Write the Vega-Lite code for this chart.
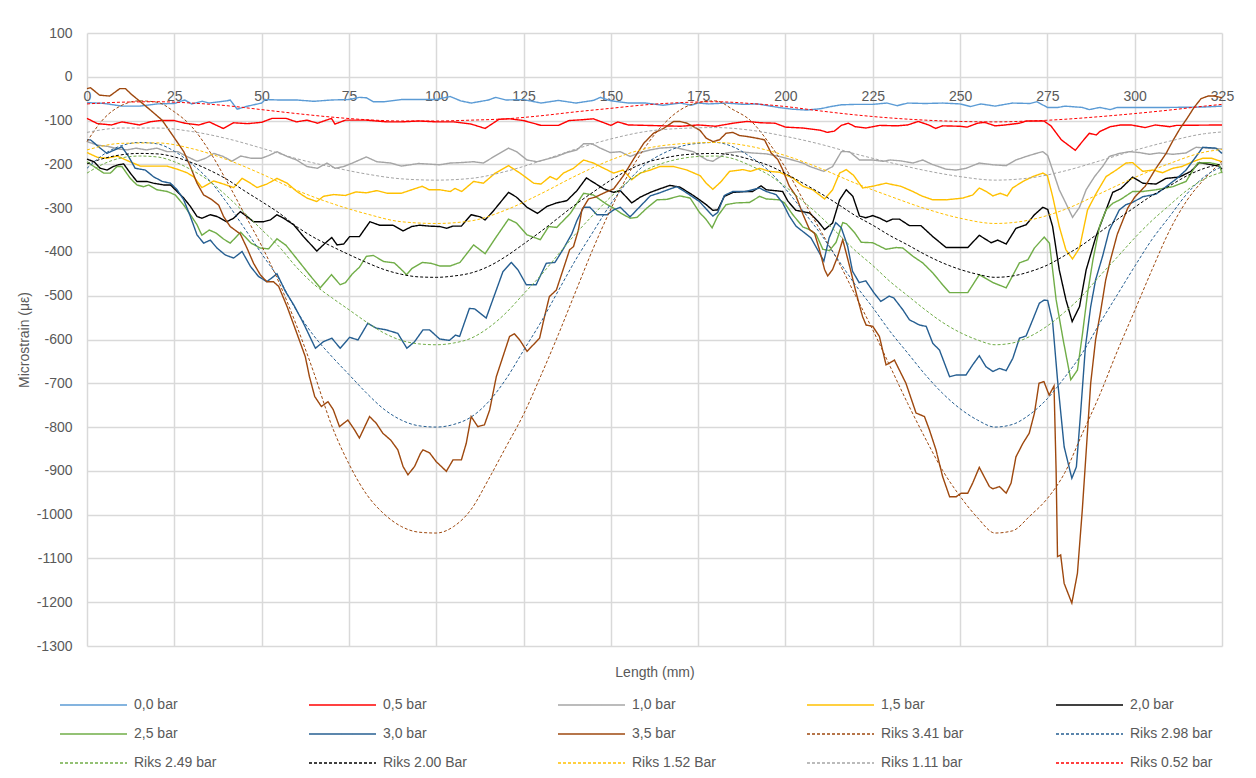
{
"$schema":"https://vega.github.io/schema/vega-lite/v6.json",
"width":1135,"height":613,
"autosize":{"type":"none"},
"padding":{"left":87,"top":33,"right":34,"bottom":132},
"background":"white",
"config":{"view":{"stroke":null},"font":"Liberation Sans",
"legend":{"orient":"none","legendX":-27,"legendY":664,"columns":5,"direction":"horizontal","symbolType":"M-4.786,0H4.786","symbolSize":196,"symbolOffset":25.5,"symbolStrokeWidth":1.5,"labelFontSize":14,"labelColor":"#595959","labelOffset":32.5,"columnPadding":86,"rowPadding":14,"gridAlign":"all","padding":0,"labelLimit":250}},
"data":{"values":[
{"s":"0,0 bar","x":0,"y":-59},{"s":"0,0 bar","x":5,"y":-61},{"s":"0,0 bar","x":10,"y":-67},{"s":"0,0 bar","x":15,"y":-67},{"s":"0,0 bar","x":20,"y":-62},{"s":"0,0 bar","x":25,"y":-61},{"s":"0,0 bar","x":28,"y":-53},{"s":"0,0 bar","x":30,"y":-62},{"s":"0,0 bar","x":33,"y":-56},{"s":"0,0 bar","x":35,"y":-60},{"s":"0,0 bar","x":40,"y":-55},{"s":"0,0 bar","x":41,"y":-53},{"s":"0,0 bar","x":43,"y":-74},{"s":"0,0 bar","x":46,"y":-67},{"s":"0,0 bar","x":50,"y":-60},{"s":"0,0 bar","x":51,"y":-52},{"s":"0,0 bar","x":55,"y":-53},{"s":"0,0 bar","x":60,"y":-53},{"s":"0,0 bar","x":65,"y":-56},{"s":"0,0 bar","x":70,"y":-53},{"s":"0,0 bar","x":75,"y":-52},{"s":"0,0 bar","x":78,"y":-47},{"s":"0,0 bar","x":80,"y":-48},{"s":"0,0 bar","x":82,"y":-57},{"s":"0,0 bar","x":85,"y":-57},{"s":"0,0 bar","x":90,"y":-52},{"s":"0,0 bar","x":95,"y":-52},{"s":"0,0 bar","x":100,"y":-52},{"s":"0,0 bar","x":104,"y":-45},{"s":"0,0 bar","x":107,"y":-55},{"s":"0,0 bar","x":110,"y":-60},{"s":"0,0 bar","x":115,"y":-53},{"s":"0,0 bar","x":117,"y":-47},{"s":"0,0 bar","x":120,"y":-53},{"s":"0,0 bar","x":125,"y":-52},{"s":"0,0 bar","x":130,"y":-60},{"s":"0,0 bar","x":135,"y":-54},{"s":"0,0 bar","x":140,"y":-60},{"s":"0,0 bar","x":145,"y":-54},{"s":"0,0 bar","x":147,"y":-47},{"s":"0,0 bar","x":150,"y":-55},{"s":"0,0 bar","x":155,"y":-60},{"s":"0,0 bar","x":160,"y":-60},{"s":"0,0 bar","x":165,"y":-65},{"s":"0,0 bar","x":170,"y":-60},{"s":"0,0 bar","x":173,"y":-65},{"s":"0,0 bar","x":175,"y":-60},{"s":"0,0 bar","x":178,"y":-62},{"s":"0,0 bar","x":183,"y":-60},{"s":"0,0 bar","x":188,"y":-63},{"s":"0,0 bar","x":192,"y":-62},{"s":"0,0 bar","x":195,"y":-66},{"s":"0,0 bar","x":198,"y":-70},{"s":"0,0 bar","x":202,"y":-74},{"s":"0,0 bar","x":206,"y":-76},{"s":"0,0 bar","x":210,"y":-73},{"s":"0,0 bar","x":213,"y":-68},{"s":"0,0 bar","x":216,"y":-64},{"s":"0,0 bar","x":220,"y":-63},{"s":"0,0 bar","x":225,"y":-63},{"s":"0,0 bar","x":229,"y":-60},{"s":"0,0 bar","x":232,"y":-66},{"s":"0,0 bar","x":235,"y":-60},{"s":"0,0 bar","x":240,"y":-61},{"s":"0,0 bar","x":245,"y":-60},{"s":"0,0 bar","x":250,"y":-62},{"s":"0,0 bar","x":253,"y":-68},{"s":"0,0 bar","x":256,"y":-62},{"s":"0,0 bar","x":260,"y":-67},{"s":"0,0 bar","x":265,"y":-60},{"s":"0,0 bar","x":270,"y":-61},{"s":"0,0 bar","x":272,"y":-57},{"s":"0,0 bar","x":275,"y":-70},{"s":"0,0 bar","x":278,"y":-70},{"s":"0,0 bar","x":280,"y":-67},{"s":"0,0 bar","x":285,"y":-70},{"s":"0,0 bar","x":287,"y":-75},{"s":"0,0 bar","x":290,"y":-70},{"s":"0,0 bar","x":293,"y":-75},{"s":"0,0 bar","x":295,"y":-70},{"s":"0,0 bar","x":300,"y":-70},{"s":"0,0 bar","x":310,"y":-70},{"s":"0,0 bar","x":320,"y":-69},{"s":"0,0 bar","x":325,"y":-67},
{"s":"0,5 bar","x":0,"y":-95},{"s":"0,5 bar","x":3,"y":-107},{"s":"0,5 bar","x":7,"y":-110},{"s":"0,5 bar","x":10,"y":-103},{"s":"0,5 bar","x":15,"y":-110},{"s":"0,5 bar","x":18,"y":-103},{"s":"0,5 bar","x":21,"y":-100},{"s":"0,5 bar","x":25,"y":-100},{"s":"0,5 bar","x":28,"y":-106},{"s":"0,5 bar","x":32,"y":-110},{"s":"0,5 bar","x":35,"y":-103},{"s":"0,5 bar","x":39,"y":-118},{"s":"0,5 bar","x":42,"y":-105},{"s":"0,5 bar","x":46,"y":-107},{"s":"0,5 bar","x":50,"y":-104},{"s":"0,5 bar","x":53,"y":-95},{"s":"0,5 bar","x":57,"y":-95},{"s":"0,5 bar","x":60,"y":-103},{"s":"0,5 bar","x":63,"y":-99},{"s":"0,5 bar","x":66,"y":-106},{"s":"0,5 bar","x":70,"y":-95},{"s":"0,5 bar","x":71,"y":-108},{"s":"0,5 bar","x":74,"y":-99},{"s":"0,5 bar","x":80,"y":-99},{"s":"0,5 bar","x":86,"y":-103},{"s":"0,5 bar","x":90,"y":-103},{"s":"0,5 bar","x":95,"y":-101},{"s":"0,5 bar","x":100,"y":-103},{"s":"0,5 bar","x":105,"y":-103},{"s":"0,5 bar","x":110,"y":-108},{"s":"0,5 bar","x":114,"y":-118},{"s":"0,5 bar","x":118,"y":-97},{"s":"0,5 bar","x":121,"y":-96},{"s":"0,5 bar","x":125,"y":-100},{"s":"0,5 bar","x":130,"y":-111},{"s":"0,5 bar","x":135,"y":-111},{"s":"0,5 bar","x":138,"y":-100},{"s":"0,5 bar","x":142,"y":-98},{"s":"0,5 bar","x":145,"y":-96},{"s":"0,5 bar","x":150,"y":-111},{"s":"0,5 bar","x":152,"y":-103},{"s":"0,5 bar","x":155,"y":-110},{"s":"0,5 bar","x":160,"y":-111},{"s":"0,5 bar","x":165,"y":-112},{"s":"0,5 bar","x":170,"y":-113},{"s":"0,5 bar","x":175,"y":-110},{"s":"0,5 bar","x":180,"y":-113},{"s":"0,5 bar","x":185,"y":-106},{"s":"0,5 bar","x":189,"y":-102},{"s":"0,5 bar","x":193,"y":-105},{"s":"0,5 bar","x":197,"y":-106},{"s":"0,5 bar","x":200,"y":-115},{"s":"0,5 bar","x":205,"y":-117},{"s":"0,5 bar","x":210,"y":-122},{"s":"0,5 bar","x":212,"y":-127},{"s":"0,5 bar","x":214,"y":-124},{"s":"0,5 bar","x":216,"y":-111},{"s":"0,5 bar","x":218,"y":-106},{"s":"0,5 bar","x":220,"y":-114},{"s":"0,5 bar","x":223,"y":-117},{"s":"0,5 bar","x":227,"y":-111},{"s":"0,5 bar","x":232,"y":-112},{"s":"0,5 bar","x":235,"y":-110},{"s":"0,5 bar","x":238,"y":-102},{"s":"0,5 bar","x":241,"y":-110},{"s":"0,5 bar","x":243,"y":-118},{"s":"0,5 bar","x":245,"y":-112},{"s":"0,5 bar","x":250,"y":-113},{"s":"0,5 bar","x":252,"y":-115},{"s":"0,5 bar","x":255,"y":-106},{"s":"0,5 bar","x":257,"y":-104},{"s":"0,5 bar","x":260,"y":-112},{"s":"0,5 bar","x":263,"y":-110},{"s":"0,5 bar","x":267,"y":-106},{"s":"0,5 bar","x":269,"y":-101},{"s":"0,5 bar","x":274,"y":-101},{"s":"0,5 bar","x":276,"y":-112},{"s":"0,5 bar","x":279,"y":-144},{"s":"0,5 bar","x":283,"y":-168},{"s":"0,5 bar","x":285,"y":-148},{"s":"0,5 bar","x":287,"y":-129},{"s":"0,5 bar","x":289,"y":-133},{"s":"0,5 bar","x":290,"y":-125},{"s":"0,5 bar","x":293,"y":-114},{"s":"0,5 bar","x":296,"y":-110},{"s":"0,5 bar","x":299,"y":-110},{"s":"0,5 bar","x":303,"y":-116},{"s":"0,5 bar","x":306,"y":-110},{"s":"0,5 bar","x":310,"y":-114},{"s":"0,5 bar","x":312,"y":-111},{"s":"0,5 bar","x":325,"y":-110},
{"s":"1,0 bar","x":0,"y":-148},{"s":"1,0 bar","x":3,"y":-156},{"s":"1,0 bar","x":6,"y":-159},{"s":"1,0 bar","x":9,"y":-165},{"s":"1,0 bar","x":11.5,"y":-167},{"s":"1,0 bar","x":14,"y":-163},{"s":"1,0 bar","x":17,"y":-167},{"s":"1,0 bar","x":20,"y":-163},{"s":"1,0 bar","x":23,"y":-171},{"s":"1,0 bar","x":26,"y":-171},{"s":"1,0 bar","x":28.6,"y":-182},{"s":"1,0 bar","x":31.5,"y":-193},{"s":"1,0 bar","x":34,"y":-186},{"s":"1,0 bar","x":36.3,"y":-175},{"s":"1,0 bar","x":39,"y":-182},{"s":"1,0 bar","x":41.5,"y":-193},{"s":"1,0 bar","x":44,"y":-181},{"s":"1,0 bar","x":47,"y":-186},{"s":"1,0 bar","x":50,"y":-186},{"s":"1,0 bar","x":52,"y":-180},{"s":"1,0 bar","x":54.4,"y":-171},{"s":"1,0 bar","x":57.3,"y":-182},{"s":"1,0 bar","x":60,"y":-190},{"s":"1,0 bar","x":63,"y":-205},{"s":"1,0 bar","x":66,"y":-209},{"s":"1,0 bar","x":68.7,"y":-197},{"s":"1,0 bar","x":71,"y":-209},{"s":"1,0 bar","x":73.5,"y":-205},{"s":"1,0 bar","x":76,"y":-197},{"s":"1,0 bar","x":80,"y":-183},{"s":"1,0 bar","x":83,"y":-194},{"s":"1,0 bar","x":87,"y":-197},{"s":"1,0 bar","x":90,"y":-204},{"s":"1,0 bar","x":95,"y":-198},{"s":"1,0 bar","x":101,"y":-201},{"s":"1,0 bar","x":104,"y":-197},{"s":"1,0 bar","x":107,"y":-196},{"s":"1,0 bar","x":110.7,"y":-194},{"s":"1,0 bar","x":113.5,"y":-197},{"s":"1,0 bar","x":117,"y":-180},{"s":"1,0 bar","x":120.7,"y":-163},{"s":"1,0 bar","x":123,"y":-171},{"s":"1,0 bar","x":126,"y":-190},{"s":"1,0 bar","x":128.8,"y":-194},{"s":"1,0 bar","x":131.7,"y":-188},{"s":"1,0 bar","x":134.5,"y":-182},{"s":"1,0 bar","x":137.4,"y":-173},{"s":"1,0 bar","x":140.3,"y":-167},{"s":"1,0 bar","x":142.2,"y":-153},{"s":"1,0 bar","x":144.6,"y":-153},{"s":"1,0 bar","x":147,"y":-163},{"s":"1,0 bar","x":149.8,"y":-173},{"s":"1,0 bar","x":152.7,"y":-171},{"s":"1,0 bar","x":155.5,"y":-182},{"s":"1,0 bar","x":158.4,"y":-173},{"s":"1,0 bar","x":161.3,"y":-167},{"s":"1,0 bar","x":164,"y":-163},{"s":"1,0 bar","x":168,"y":-161},{"s":"1,0 bar","x":170.8,"y":-166},{"s":"1,0 bar","x":173.6,"y":-171},{"s":"1,0 bar","x":175.4,"y":-180},{"s":"1,0 bar","x":177.5,"y":-190},{"s":"1,0 bar","x":179.2,"y":-193},{"s":"1,0 bar","x":183,"y":-174},{"s":"1,0 bar","x":186.8,"y":-171},{"s":"1,0 bar","x":190.6,"y":-174},{"s":"1,0 bar","x":194.5,"y":-176},{"s":"1,0 bar","x":198.3,"y":-182},{"s":"1,0 bar","x":202,"y":-190},{"s":"1,0 bar","x":205,"y":-197},{"s":"1,0 bar","x":207,"y":-205},{"s":"1,0 bar","x":211,"y":-216},{"s":"1,0 bar","x":213.5,"y":-205},{"s":"1,0 bar","x":216,"y":-171},{"s":"1,0 bar","x":218.3,"y":-171},{"s":"1,0 bar","x":221.2,"y":-190},{"s":"1,0 bar","x":225,"y":-190},{"s":"1,0 bar","x":228,"y":-193},{"s":"1,0 bar","x":230,"y":-190},{"s":"1,0 bar","x":233,"y":-192},{"s":"1,0 bar","x":236.5,"y":-197},{"s":"1,0 bar","x":239.3,"y":-190},{"s":"1,0 bar","x":242,"y":-200},{"s":"1,0 bar","x":246,"y":-211},{"s":"1,0 bar","x":248.9,"y":-213},{"s":"1,0 bar","x":251.7,"y":-209},{"s":"1,0 bar","x":255.5,"y":-197},{"s":"1,0 bar","x":259.4,"y":-201},{"s":"1,0 bar","x":263.2,"y":-203},{"s":"1,0 bar","x":266,"y":-190},{"s":"1,0 bar","x":268.9,"y":-182},{"s":"1,0 bar","x":271.8,"y":-175},{"s":"1,0 bar","x":273.7,"y":-171},{"s":"1,0 bar","x":275.1,"y":-180},{"s":"1,0 bar","x":276.5,"y":-213},{"s":"1,0 bar","x":278.4,"y":-258},{"s":"1,0 bar","x":280.3,"y":-289},{"s":"1,0 bar","x":282.2,"y":-321},{"s":"1,0 bar","x":284.2,"y":-298},{"s":"1,0 bar","x":286.1,"y":-258},{"s":"1,0 bar","x":288.5,"y":-228},{"s":"1,0 bar","x":290.8,"y":-205},{"s":"1,0 bar","x":292.7,"y":-182},{"s":"1,0 bar","x":295.6,"y":-175},{"s":"1,0 bar","x":298.5,"y":-171},{"s":"1,0 bar","x":301.3,"y":-173},{"s":"1,0 bar","x":304.2,"y":-177},{"s":"1,0 bar","x":307,"y":-174},{"s":"1,0 bar","x":310.9,"y":-177},{"s":"1,0 bar","x":314.7,"y":-174},{"s":"1,0 bar","x":317.6,"y":-161},{"s":"1,0 bar","x":320.9,"y":-163},{"s":"1,0 bar","x":325,"y":-165},
{"s":"1,5 bar","x":0,"y":-173},{"s":"1,5 bar","x":3,"y":-184},{"s":"1,5 bar","x":5.7,"y":-186},{"s":"1,5 bar","x":8.6,"y":-181},{"s":"1,5 bar","x":12,"y":-193},{"s":"1,5 bar","x":15.3,"y":-204},{"s":"1,5 bar","x":19,"y":-204},{"s":"1,5 bar","x":22.9,"y":-204},{"s":"1,5 bar","x":25.8,"y":-211},{"s":"1,5 bar","x":28.6,"y":-219},{"s":"1,5 bar","x":30.5,"y":-228},{"s":"1,5 bar","x":32.9,"y":-253},{"s":"1,5 bar","x":36.3,"y":-238},{"s":"1,5 bar","x":39.1,"y":-245},{"s":"1,5 bar","x":42,"y":-253},{"s":"1,5 bar","x":44.4,"y":-232},{"s":"1,5 bar","x":46.8,"y":-243},{"s":"1,5 bar","x":48.7,"y":-253},{"s":"1,5 bar","x":51.5,"y":-245},{"s":"1,5 bar","x":54.4,"y":-232},{"s":"1,5 bar","x":57.3,"y":-243},{"s":"1,5 bar","x":60.1,"y":-262},{"s":"1,5 bar","x":63,"y":-277},{"s":"1,5 bar","x":65.8,"y":-285},{"s":"1,5 bar","x":67.7,"y":-273},{"s":"1,5 bar","x":70.6,"y":-269},{"s":"1,5 bar","x":74,"y":-271},{"s":"1,5 bar","x":77,"y":-263},{"s":"1,5 bar","x":80,"y":-265},{"s":"1,5 bar","x":83,"y":-260},{"s":"1,5 bar","x":86,"y":-266},{"s":"1,5 bar","x":90,"y":-266},{"s":"1,5 bar","x":93,"y":-258},{"s":"1,5 bar","x":96,"y":-250},{"s":"1,5 bar","x":98,"y":-258},{"s":"1,5 bar","x":101,"y":-258},{"s":"1,5 bar","x":104,"y":-262},{"s":"1,5 bar","x":105.4,"y":-255},{"s":"1,5 bar","x":107.3,"y":-262},{"s":"1,5 bar","x":110.7,"y":-239},{"s":"1,5 bar","x":113.5,"y":-243},{"s":"1,5 bar","x":116.9,"y":-220},{"s":"1,5 bar","x":120.7,"y":-203},{"s":"1,5 bar","x":124,"y":-220},{"s":"1,5 bar","x":127.9,"y":-243},{"s":"1,5 bar","x":130,"y":-245},{"s":"1,5 bar","x":132.6,"y":-228},{"s":"1,5 bar","x":134.5,"y":-235},{"s":"1,5 bar","x":136.4,"y":-220},{"s":"1,5 bar","x":139.3,"y":-209},{"s":"1,5 bar","x":142.2,"y":-190},{"s":"1,5 bar","x":145,"y":-197},{"s":"1,5 bar","x":148,"y":-209},{"s":"1,5 bar","x":150.8,"y":-220},{"s":"1,5 bar","x":153.5,"y":-213},{"s":"1,5 bar","x":156,"y":-235},{"s":"1,5 bar","x":158.4,"y":-220},{"s":"1,5 bar","x":161.3,"y":-213},{"s":"1,5 bar","x":164,"y":-205},{"s":"1,5 bar","x":168,"y":-205},{"s":"1,5 bar","x":171.8,"y":-213},{"s":"1,5 bar","x":175.6,"y":-226},{"s":"1,5 bar","x":177.3,"y":-243},{"s":"1,5 bar","x":179.2,"y":-257},{"s":"1,5 bar","x":181.5,"y":-240},{"s":"1,5 bar","x":184,"y":-216},{"s":"1,5 bar","x":187.8,"y":-212},{"s":"1,5 bar","x":190,"y":-216},{"s":"1,5 bar","x":192.6,"y":-209},{"s":"1,5 bar","x":195.4,"y":-216},{"s":"1,5 bar","x":198.3,"y":-218},{"s":"1,5 bar","x":202.1,"y":-231},{"s":"1,5 bar","x":205,"y":-250},{"s":"1,5 bar","x":207.8,"y":-258},{"s":"1,5 bar","x":211.2,"y":-279},{"s":"1,5 bar","x":213.5,"y":-258},{"s":"1,5 bar","x":215.5,"y":-220},{"s":"1,5 bar","x":217.4,"y":-212},{"s":"1,5 bar","x":219.5,"y":-225},{"s":"1,5 bar","x":222.1,"y":-254},{"s":"1,5 bar","x":225,"y":-250},{"s":"1,5 bar","x":228.8,"y":-243},{"s":"1,5 bar","x":230.5,"y":-246},{"s":"1,5 bar","x":233,"y":-250},{"s":"1,5 bar","x":236.5,"y":-262},{"s":"1,5 bar","x":239,"y":-272},{"s":"1,5 bar","x":242.2,"y":-281},{"s":"1,5 bar","x":246,"y":-281},{"s":"1,5 bar","x":250.8,"y":-277},{"s":"1,5 bar","x":253.6,"y":-270},{"s":"1,5 bar","x":255.5,"y":-254},{"s":"1,5 bar","x":257.5,"y":-262},{"s":"1,5 bar","x":259.4,"y":-272},{"s":"1,5 bar","x":261.5,"y":-266},{"s":"1,5 bar","x":263.5,"y":-272},{"s":"1,5 bar","x":265,"y":-254},{"s":"1,5 bar","x":268,"y":-239},{"s":"1,5 bar","x":270.8,"y":-228},{"s":"1,5 bar","x":273.7,"y":-220},{"s":"1,5 bar","x":275,"y":-226},{"s":"1,5 bar","x":276.5,"y":-273},{"s":"1,5 bar","x":278.4,"y":-342},{"s":"1,5 bar","x":280.3,"y":-395},{"s":"1,5 bar","x":282.2,"y":-416},{"s":"1,5 bar","x":284.2,"y":-391},{"s":"1,5 bar","x":286.5,"y":-304},{"s":"1,5 bar","x":289,"y":-266},{"s":"1,5 bar","x":291.8,"y":-228},{"s":"1,5 bar","x":294.7,"y":-213},{"s":"1,5 bar","x":297.5,"y":-197},{"s":"1,5 bar","x":299.4,"y":-196},{"s":"1,5 bar","x":302.3,"y":-216},{"s":"1,5 bar","x":305.2,"y":-213},{"s":"1,5 bar","x":308,"y":-219},{"s":"1,5 bar","x":310.9,"y":-209},{"s":"1,5 bar","x":313.5,"y":-205},{"s":"1,5 bar","x":316.6,"y":-194},{"s":"1,5 bar","x":319.5,"y":-186},{"s":"1,5 bar","x":322,"y":-186},{"s":"1,5 bar","x":325,"y":-194},
{"s":"2,0 bar","x":0,"y":-188},{"s":"2,0 bar","x":2,"y":-194},{"s":"2,0 bar","x":3.8,"y":-209},{"s":"2,0 bar","x":5.7,"y":-213},{"s":"2,0 bar","x":7.5,"y":-205},{"s":"2,0 bar","x":9,"y":-201},{"s":"2,0 bar","x":10.5,"y":-199},{"s":"2,0 bar","x":12.4,"y":-220},{"s":"2,0 bar","x":14.3,"y":-239},{"s":"2,0 bar","x":17.2,"y":-239},{"s":"2,0 bar","x":19,"y":-243},{"s":"2,0 bar","x":22,"y":-247},{"s":"2,0 bar","x":23.9,"y":-247},{"s":"2,0 bar","x":25.8,"y":-262},{"s":"2,0 bar","x":27.7,"y":-277},{"s":"2,0 bar","x":29.6,"y":-296},{"s":"2,0 bar","x":31.5,"y":-319},{"s":"2,0 bar","x":32.9,"y":-323},{"s":"2,0 bar","x":35.3,"y":-315},{"s":"2,0 bar","x":37.2,"y":-319},{"s":"2,0 bar","x":40,"y":-331},{"s":"2,0 bar","x":42,"y":-323},{"s":"2,0 bar","x":43.9,"y":-308},{"s":"2,0 bar","x":45.8,"y":-319},{"s":"2,0 bar","x":47.7,"y":-331},{"s":"2,0 bar","x":50.6,"y":-331},{"s":"2,0 bar","x":52.5,"y":-327},{"s":"2,0 bar","x":54.4,"y":-315},{"s":"2,0 bar","x":56.3,"y":-323},{"s":"2,0 bar","x":59.2,"y":-338},{"s":"2,0 bar","x":62,"y":-365},{"s":"2,0 bar","x":65.8,"y":-398},{"s":"2,0 bar","x":68.2,"y":-380},{"s":"2,0 bar","x":70.1,"y":-367},{"s":"2,0 bar","x":71.6,"y":-384},{"s":"2,0 bar","x":73.5,"y":-382},{"s":"2,0 bar","x":75.2,"y":-365},{"s":"2,0 bar","x":78,"y":-365},{"s":"2,0 bar","x":81,"y":-331},{"s":"2,0 bar","x":83.8,"y":-339},{"s":"2,0 bar","x":87.6,"y":-339},{"s":"2,0 bar","x":90.5,"y":-352},{"s":"2,0 bar","x":93,"y":-342},{"s":"2,0 bar","x":95.2,"y":-339},{"s":"2,0 bar","x":98,"y":-341},{"s":"2,0 bar","x":101,"y":-342},{"s":"2,0 bar","x":103,"y":-346},{"s":"2,0 bar","x":104.8,"y":-341},{"s":"2,0 bar","x":107.2,"y":-341},{"s":"2,0 bar","x":110,"y":-315},{"s":"2,0 bar","x":112.6,"y":-320},{"s":"2,0 bar","x":114,"y":-327},{"s":"2,0 bar","x":116.4,"y":-306},{"s":"2,0 bar","x":120.7,"y":-264},{"s":"2,0 bar","x":123,"y":-275},{"s":"2,0 bar","x":126,"y":-298},{"s":"2,0 bar","x":129,"y":-312},{"s":"2,0 bar","x":131.7,"y":-296},{"s":"2,0 bar","x":134.5,"y":-288},{"s":"2,0 bar","x":137.4,"y":-283},{"s":"2,0 bar","x":140.3,"y":-260},{"s":"2,0 bar","x":143,"y":-231},{"s":"2,0 bar","x":145,"y":-241},{"s":"2,0 bar","x":148,"y":-256},{"s":"2,0 bar","x":150.8,"y":-264},{"s":"2,0 bar","x":152.7,"y":-260},{"s":"2,0 bar","x":156,"y":-288},{"s":"2,0 bar","x":158.4,"y":-275},{"s":"2,0 bar","x":161.3,"y":-264},{"s":"2,0 bar","x":164,"y":-256},{"s":"2,0 bar","x":166.9,"y":-248},{"s":"2,0 bar","x":169.8,"y":-252},{"s":"2,0 bar","x":173.6,"y":-271},{"s":"2,0 bar","x":175.4,"y":-281},{"s":"2,0 bar","x":177.3,"y":-292},{"s":"2,0 bar","x":179.2,"y":-305},{"s":"2,0 bar","x":180.6,"y":-304},{"s":"2,0 bar","x":182.5,"y":-273},{"s":"2,0 bar","x":185,"y":-264},{"s":"2,0 bar","x":188.7,"y":-262},{"s":"2,0 bar","x":190.6,"y":-262},{"s":"2,0 bar","x":193,"y":-249},{"s":"2,0 bar","x":194.5,"y":-258},{"s":"2,0 bar","x":196.9,"y":-260},{"s":"2,0 bar","x":199.2,"y":-262},{"s":"2,0 bar","x":200.7,"y":-284},{"s":"2,0 bar","x":203,"y":-305},{"s":"2,0 bar","x":206.9,"y":-311},{"s":"2,0 bar","x":209.3,"y":-330},{"s":"2,0 bar","x":211.2,"y":-349},{"s":"2,0 bar","x":213.5,"y":-334},{"s":"2,0 bar","x":215.5,"y":-281},{"s":"2,0 bar","x":217.4,"y":-258},{"s":"2,0 bar","x":219.3,"y":-273},{"s":"2,0 bar","x":221.2,"y":-318},{"s":"2,0 bar","x":223,"y":-322},{"s":"2,0 bar","x":225,"y":-317},{"s":"2,0 bar","x":227,"y":-323},{"s":"2,0 bar","x":229,"y":-331},{"s":"2,0 bar","x":230.7,"y":-325},{"s":"2,0 bar","x":232.6,"y":-325},{"s":"2,0 bar","x":235.5,"y":-340},{"s":"2,0 bar","x":238.8,"y":-340},{"s":"2,0 bar","x":242.2,"y":-365},{"s":"2,0 bar","x":246,"y":-390},{"s":"2,0 bar","x":248.9,"y":-390},{"s":"2,0 bar","x":252.2,"y":-390},{"s":"2,0 bar","x":255.5,"y":-362},{"s":"2,0 bar","x":258.9,"y":-379},{"s":"2,0 bar","x":260.8,"y":-373},{"s":"2,0 bar","x":263.2,"y":-382},{"s":"2,0 bar","x":266,"y":-346},{"s":"2,0 bar","x":268.9,"y":-338},{"s":"2,0 bar","x":271.3,"y":-315},{"s":"2,0 bar","x":273.7,"y":-298},{"s":"2,0 bar","x":275.1,"y":-303},{"s":"2,0 bar","x":276.5,"y":-342},{"s":"2,0 bar","x":278.4,"y":-441},{"s":"2,0 bar","x":280.3,"y":-509},{"s":"2,0 bar","x":282.1,"y":-559},{"s":"2,0 bar","x":284.2,"y":-525},{"s":"2,0 bar","x":286.1,"y":-441},{"s":"2,0 bar","x":288.9,"y":-365},{"s":"2,0 bar","x":291.8,"y":-304},{"s":"2,0 bar","x":293.7,"y":-264},{"s":"2,0 bar","x":296.1,"y":-255},{"s":"2,0 bar","x":299.4,"y":-229},{"s":"2,0 bar","x":302.3,"y":-243},{"s":"2,0 bar","x":306.1,"y":-245},{"s":"2,0 bar","x":309,"y":-232},{"s":"2,0 bar","x":312.8,"y":-229},{"s":"2,0 bar","x":316.1,"y":-216},{"s":"2,0 bar","x":318.5,"y":-196},{"s":"2,0 bar","x":321.4,"y":-200},{"s":"2,0 bar","x":324.2,"y":-204},{"s":"2,0 bar","x":325,"y":-211},
{"s":"2,5 bar","x":0,"y":-194},{"s":"2,5 bar","x":2,"y":-205},{"s":"2,5 bar","x":4.8,"y":-220},{"s":"2,5 bar","x":6.7,"y":-220},{"s":"2,5 bar","x":8.6,"y":-205},{"s":"2,5 bar","x":10,"y":-205},{"s":"2,5 bar","x":12.4,"y":-232},{"s":"2,5 bar","x":14.3,"y":-247},{"s":"2,5 bar","x":16.2,"y":-251},{"s":"2,5 bar","x":17.7,"y":-247},{"s":"2,5 bar","x":20,"y":-258},{"s":"2,5 bar","x":23,"y":-262},{"s":"2,5 bar","x":25.3,"y":-270},{"s":"2,5 bar","x":27.7,"y":-293},{"s":"2,5 bar","x":29.6,"y":-315},{"s":"2,5 bar","x":31.5,"y":-338},{"s":"2,5 bar","x":32.9,"y":-362},{"s":"2,5 bar","x":35,"y":-350},{"s":"2,5 bar","x":37,"y":-357},{"s":"2,5 bar","x":39,"y":-370},{"s":"2,5 bar","x":41,"y":-380},{"s":"2,5 bar","x":44,"y":-355},{"s":"2,5 bar","x":47,"y":-380},{"s":"2,5 bar","x":49.6,"y":-391},{"s":"2,5 bar","x":52,"y":-393},{"s":"2,5 bar","x":54.4,"y":-370},{"s":"2,5 bar","x":57,"y":-385},{"s":"2,5 bar","x":61,"y":-425},{"s":"2,5 bar","x":64,"y":-455},{"s":"2,5 bar","x":66.8,"y":-482},{"s":"2,5 bar","x":70,"y":-452},{"s":"2,5 bar","x":72.5,"y":-475},{"s":"2,5 bar","x":74,"y":-470},{"s":"2,5 bar","x":76,"y":-450},{"s":"2,5 bar","x":78,"y":-435},{"s":"2,5 bar","x":80,"y":-410},{"s":"2,5 bar","x":82,"y":-408},{"s":"2,5 bar","x":85,"y":-422},{"s":"2,5 bar","x":88,"y":-425},{"s":"2,5 bar","x":90,"y":-440},{"s":"2,5 bar","x":91.5,"y":-452},{"s":"2,5 bar","x":93,"y":-438},{"s":"2,5 bar","x":96,"y":-424},{"s":"2,5 bar","x":98.5,"y":-426},{"s":"2,5 bar","x":101,"y":-432},{"s":"2,5 bar","x":104,"y":-432},{"s":"2,5 bar","x":106.8,"y":-424},{"s":"2,5 bar","x":110.7,"y":-384},{"s":"2,5 bar","x":114,"y":-404},{"s":"2,5 bar","x":116.9,"y":-369},{"s":"2,5 bar","x":120.7,"y":-325},{"s":"2,5 bar","x":123,"y":-334},{"s":"2,5 bar","x":126,"y":-361},{"s":"2,5 bar","x":129.8,"y":-372},{"s":"2,5 bar","x":132.2,"y":-342},{"s":"2,5 bar","x":134.5,"y":-344},{"s":"2,5 bar","x":138.4,"y":-312},{"s":"2,5 bar","x":142.2,"y":-266},{"s":"2,5 bar","x":145,"y":-270},{"s":"2,5 bar","x":148.4,"y":-289},{"s":"2,5 bar","x":150.8,"y":-300},{"s":"2,5 bar","x":153,"y":-312},{"s":"2,5 bar","x":155.5,"y":-323},{"s":"2,5 bar","x":157.5,"y":-321},{"s":"2,5 bar","x":160.3,"y":-300},{"s":"2,5 bar","x":163.2,"y":-281},{"s":"2,5 bar","x":166,"y":-280},{"s":"2,5 bar","x":169.8,"y":-272},{"s":"2,5 bar","x":172.7,"y":-277},{"s":"2,5 bar","x":175.4,"y":-310},{"s":"2,5 bar","x":177.3,"y":-326},{"s":"2,5 bar","x":179,"y":-345},{"s":"2,5 bar","x":180.6,"y":-318},{"s":"2,5 bar","x":183,"y":-292},{"s":"2,5 bar","x":185.9,"y":-288},{"s":"2,5 bar","x":189.7,"y":-287},{"s":"2,5 bar","x":192.6,"y":-273},{"s":"2,5 bar","x":194.5,"y":-279},{"s":"2,5 bar","x":198.3,"y":-281},{"s":"2,5 bar","x":199.7,"y":-288},{"s":"2,5 bar","x":202.1,"y":-315},{"s":"2,5 bar","x":205,"y":-343},{"s":"2,5 bar","x":206.9,"y":-349},{"s":"2,5 bar","x":208.8,"y":-360},{"s":"2,5 bar","x":210.7,"y":-394},{"s":"2,5 bar","x":212.6,"y":-397},{"s":"2,5 bar","x":214.5,"y":-378},{"s":"2,5 bar","x":216.4,"y":-333},{"s":"2,5 bar","x":217.5,"y":-336},{"s":"2,5 bar","x":219.8,"y":-356},{"s":"2,5 bar","x":221.7,"y":-378},{"s":"2,5 bar","x":225,"y":-379},{"s":"2,5 bar","x":228.8,"y":-394},{"s":"2,5 bar","x":231.7,"y":-390},{"s":"2,5 bar","x":233.6,"y":-391},{"s":"2,5 bar","x":236.5,"y":-410},{"s":"2,5 bar","x":239.3,"y":-425},{"s":"2,5 bar","x":242.2,"y":-448},{"s":"2,5 bar","x":245,"y":-475},{"s":"2,5 bar","x":247,"y":-493},{"s":"2,5 bar","x":252.2,"y":-493},{"s":"2,5 bar","x":255.5,"y":-452},{"s":"2,5 bar","x":259.4,"y":-470},{"s":"2,5 bar","x":263.2,"y":-482},{"s":"2,5 bar","x":267,"y":-425},{"s":"2,5 bar","x":269.4,"y":-418},{"s":"2,5 bar","x":271.3,"y":-391},{"s":"2,5 bar","x":274.1,"y":-366},{"s":"2,5 bar","x":275.6,"y":-380},{"s":"2,5 bar","x":277.5,"y":-509},{"s":"2,5 bar","x":279.5,"y":-600},{"s":"2,5 bar","x":281.7,"y":-692},{"s":"2,5 bar","x":283.6,"y":-670},{"s":"2,5 bar","x":285,"y":-590},{"s":"2,5 bar","x":286.5,"y":-495},{"s":"2,5 bar","x":288,"y":-420},{"s":"2,5 bar","x":290,"y":-340},{"s":"2,5 bar","x":291.8,"y":-304},{"s":"2,5 bar","x":293.7,"y":-289},{"s":"2,5 bar","x":296,"y":-280},{"s":"2,5 bar","x":299.4,"y":-262},{"s":"2,5 bar","x":302.3,"y":-262},{"s":"2,5 bar","x":306.1,"y":-258},{"s":"2,5 bar","x":310.9,"y":-251},{"s":"2,5 bar","x":314.7,"y":-239},{"s":"2,5 bar","x":318,"y":-197},{"s":"2,5 bar","x":321.4,"y":-196},{"s":"2,5 bar","x":324.2,"y":-201},{"s":"2,5 bar","x":325,"y":-220},
{"s":"3,0 bar","x":0,"y":-144},{"s":"3,0 bar","x":1,"y":-144},{"s":"3,0 bar","x":3.8,"y":-163},{"s":"3,0 bar","x":5.7,"y":-175},{"s":"3,0 bar","x":7.6,"y":-168},{"s":"3,0 bar","x":10,"y":-160},{"s":"3,0 bar","x":11.9,"y":-182},{"s":"3,0 bar","x":13.8,"y":-209},{"s":"3,0 bar","x":16.7,"y":-213},{"s":"3,0 bar","x":19,"y":-228},{"s":"3,0 bar","x":21.5,"y":-239},{"s":"3,0 bar","x":23.9,"y":-243},{"s":"3,0 bar","x":25.8,"y":-258},{"s":"3,0 bar","x":27.7,"y":-281},{"s":"3,0 bar","x":29.6,"y":-319},{"s":"3,0 bar","x":31.5,"y":-361},{"s":"3,0 bar","x":33.4,"y":-380},{"s":"3,0 bar","x":35.3,"y":-373},{"s":"3,0 bar","x":37.2,"y":-391},{"s":"3,0 bar","x":39.6,"y":-407},{"s":"3,0 bar","x":42,"y":-414},{"s":"3,0 bar","x":44.4,"y":-399},{"s":"3,0 bar","x":46.8,"y":-433},{"s":"3,0 bar","x":49.1,"y":-456},{"s":"3,0 bar","x":51.5,"y":-468},{"s":"3,0 bar","x":54.4,"y":-450},{"s":"3,0 bar","x":56.8,"y":-490},{"s":"3,0 bar","x":59.2,"y":-521},{"s":"3,0 bar","x":62,"y":-563},{"s":"3,0 bar","x":65.4,"y":-620},{"s":"3,0 bar","x":67.7,"y":-605},{"s":"3,0 bar","x":70.1,"y":-597},{"s":"3,0 bar","x":72.5,"y":-620},{"s":"3,0 bar","x":75.2,"y":-595},{"s":"3,0 bar","x":77.6,"y":-601},{"s":"3,0 bar","x":80.4,"y":-563},{"s":"3,0 bar","x":82.8,"y":-574},{"s":"3,0 bar","x":85.7,"y":-578},{"s":"3,0 bar","x":89,"y":-586},{"s":"3,0 bar","x":91.6,"y":-620},{"s":"3,0 bar","x":93.8,"y":-605},{"s":"3,0 bar","x":96.2,"y":-578},{"s":"3,0 bar","x":98.1,"y":-578},{"s":"3,0 bar","x":101,"y":-599},{"s":"3,0 bar","x":103.8,"y":-602},{"s":"3,0 bar","x":105.5,"y":-590},{"s":"3,0 bar","x":106.7,"y":-593},{"s":"3,0 bar","x":109.5,"y":-529},{"s":"3,0 bar","x":111,"y":-530},{"s":"3,0 bar","x":114.3,"y":-551},{"s":"3,0 bar","x":117.2,"y":-487},{"s":"3,0 bar","x":119.1,"y":-445},{"s":"3,0 bar","x":121.5,"y":-424},{"s":"3,0 bar","x":123.4,"y":-441},{"s":"3,0 bar","x":125.8,"y":-475},{"s":"3,0 bar","x":128.6,"y":-475},{"s":"3,0 bar","x":131.5,"y":-426},{"s":"3,0 bar","x":134,"y":-424},{"s":"3,0 bar","x":136.4,"y":-393},{"s":"3,0 bar","x":138.8,"y":-359},{"s":"3,0 bar","x":140.3,"y":-328},{"s":"3,0 bar","x":142.2,"y":-298},{"s":"3,0 bar","x":144,"y":-298},{"s":"3,0 bar","x":146,"y":-315},{"s":"3,0 bar","x":148.9,"y":-315},{"s":"3,0 bar","x":150.8,"y":-304},{"s":"3,0 bar","x":152.7,"y":-298},{"s":"3,0 bar","x":155.5,"y":-320},{"s":"3,0 bar","x":158.4,"y":-296},{"s":"3,0 bar","x":161.3,"y":-272},{"s":"3,0 bar","x":164,"y":-265},{"s":"3,0 bar","x":167,"y":-256},{"s":"3,0 bar","x":168.9,"y":-251},{"s":"3,0 bar","x":171.7,"y":-265},{"s":"3,0 bar","x":175.4,"y":-285},{"s":"3,0 bar","x":177.3,"y":-302},{"s":"3,0 bar","x":179.2,"y":-318},{"s":"3,0 bar","x":180.6,"y":-310},{"s":"3,0 bar","x":182.5,"y":-271},{"s":"3,0 bar","x":184.9,"y":-262},{"s":"3,0 bar","x":188.7,"y":-262},{"s":"3,0 bar","x":192.6,"y":-254},{"s":"3,0 bar","x":194.5,"y":-262},{"s":"3,0 bar","x":197.3,"y":-269},{"s":"3,0 bar","x":199.2,"y":-288},{"s":"3,0 bar","x":201.1,"y":-318},{"s":"3,0 bar","x":203,"y":-341},{"s":"3,0 bar","x":205.4,"y":-356},{"s":"3,0 bar","x":207.3,"y":-368},{"s":"3,0 bar","x":209.7,"y":-402},{"s":"3,0 bar","x":211,"y":-421},{"s":"3,0 bar","x":212.5,"y":-368},{"s":"3,0 bar","x":214.4,"y":-333},{"s":"3,0 bar","x":216,"y":-345},{"s":"3,0 bar","x":217.8,"y":-387},{"s":"3,0 bar","x":219.2,"y":-444},{"s":"3,0 bar","x":221.1,"y":-470},{"s":"3,0 bar","x":223,"y":-466},{"s":"3,0 bar","x":225.4,"y":-494},{"s":"3,0 bar","x":227.3,"y":-513},{"s":"3,0 bar","x":229.7,"y":-501},{"s":"3,0 bar","x":231,"y":-505},{"s":"3,0 bar","x":233.6,"y":-532},{"s":"3,0 bar","x":235.5,"y":-555},{"s":"3,0 bar","x":238.4,"y":-567},{"s":"3,0 bar","x":240.3,"y":-570},{"s":"3,0 bar","x":242.2,"y":-609},{"s":"3,0 bar","x":244.1,"y":-624},{"s":"3,0 bar","x":247,"y":-685},{"s":"3,0 bar","x":248.9,"y":-681},{"s":"3,0 bar","x":251.7,"y":-681},{"s":"3,0 bar","x":253.6,"y":-658},{"s":"3,0 bar","x":255.5,"y":-637},{"s":"3,0 bar","x":257.4,"y":-662},{"s":"3,0 bar","x":259.4,"y":-673},{"s":"3,0 bar","x":261.3,"y":-666},{"s":"3,0 bar","x":263.2,"y":-671},{"s":"3,0 bar","x":265.1,"y":-643},{"s":"3,0 bar","x":267,"y":-597},{"s":"3,0 bar","x":268.9,"y":-592},{"s":"3,0 bar","x":270.8,"y":-555},{"s":"3,0 bar","x":272.7,"y":-517},{"s":"3,0 bar","x":274.1,"y":-510},{"s":"3,0 bar","x":275.1,"y":-511},{"s":"3,0 bar","x":276.5,"y":-560},{"s":"3,0 bar","x":277.9,"y":-692},{"s":"3,0 bar","x":279.8,"y":-845},{"s":"3,0 bar","x":282,"y":-917},{"s":"3,0 bar","x":283.3,"y":-891},{"s":"3,0 bar","x":284.5,"y":-769},{"s":"3,0 bar","x":285.9,"y":-616},{"s":"3,0 bar","x":287.4,"y":-525},{"s":"3,0 bar","x":288.8,"y":-464},{"s":"3,0 bar","x":290.8,"y":-410},{"s":"3,0 bar","x":292.7,"y":-351},{"s":"3,0 bar","x":295.6,"y":-304},{"s":"3,0 bar","x":297.5,"y":-292},{"s":"3,0 bar","x":299.4,"y":-287},{"s":"3,0 bar","x":302.3,"y":-274},{"s":"3,0 bar","x":306.1,"y":-268},{"s":"3,0 bar","x":309,"y":-251},{"s":"3,0 bar","x":311.8,"y":-234},{"s":"3,0 bar","x":314.7,"y":-213},{"s":"3,0 bar","x":317.6,"y":-182},{"s":"3,0 bar","x":319.5,"y":-161},{"s":"3,0 bar","x":323.3,"y":-163},{"s":"3,0 bar","x":325,"y":-175},
{"s":"3,5 bar","x":0,"y":-27},{"s":"3,5 bar","x":1,"y":-25},{"s":"3,5 bar","x":3.6,"y":-42},{"s":"3,5 bar","x":6.5,"y":-44},{"s":"3,5 bar","x":9.4,"y":-27},{"s":"3,5 bar","x":11,"y":-27},{"s":"3,5 bar","x":12.7,"y":-40},{"s":"3,5 bar","x":15,"y":-55},{"s":"3,5 bar","x":18,"y":-75},{"s":"3,5 bar","x":21.5,"y":-99},{"s":"3,5 bar","x":24.8,"y":-137},{"s":"3,5 bar","x":27.7,"y":-171},{"s":"3,5 bar","x":29.6,"y":-205},{"s":"3,5 bar","x":31.5,"y":-243},{"s":"3,5 bar","x":33.4,"y":-270},{"s":"3,5 bar","x":35.8,"y":-281},{"s":"3,5 bar","x":37.7,"y":-293},{"s":"3,5 bar","x":39.1,"y":-319},{"s":"3,5 bar","x":41,"y":-342},{"s":"3,5 bar","x":43.9,"y":-359},{"s":"3,5 bar","x":45.8,"y":-391},{"s":"3,5 bar","x":47.7,"y":-426},{"s":"3,5 bar","x":49.6,"y":-452},{"s":"3,5 bar","x":51.5,"y":-468},{"s":"3,5 bar","x":53.4,"y":-468},{"s":"3,5 bar","x":54.9,"y":-479},{"s":"3,5 bar","x":57.3,"y":-525},{"s":"3,5 bar","x":60.1,"y":-586},{"s":"3,5 bar","x":62.5,"y":-639},{"s":"3,5 bar","x":63.7,"y":-685},{"s":"3,5 bar","x":65.2,"y":-730},{"s":"3,5 bar","x":67.1,"y":-753},{"s":"3,5 bar","x":69,"y":-742},{"s":"3,5 bar","x":70.5,"y":-760},{"s":"3,5 bar","x":72.3,"y":-799},{"s":"3,5 bar","x":74.7,"y":-784},{"s":"3,5 bar","x":76.5,"y":-805},{"s":"3,5 bar","x":78,"y":-825},{"s":"3,5 bar","x":80.9,"y":-776},{"s":"3,5 bar","x":82.8,"y":-791},{"s":"3,5 bar","x":84.7,"y":-814},{"s":"3,5 bar","x":87,"y":-830},{"s":"3,5 bar","x":89,"y":-852},{"s":"3,5 bar","x":90.5,"y":-890},{"s":"3,5 bar","x":91.9,"y":-909},{"s":"3,5 bar","x":93.8,"y":-890},{"s":"3,5 bar","x":95.5,"y":-860},{"s":"3,5 bar","x":96.2,"y":-852},{"s":"3,5 bar","x":98.1,"y":-859},{"s":"3,5 bar","x":100,"y":-879},{"s":"3,5 bar","x":102.9,"y":-901},{"s":"3,5 bar","x":104.8,"y":-875},{"s":"3,5 bar","x":107.2,"y":-875},{"s":"3,5 bar","x":108.6,"y":-837},{"s":"3,5 bar","x":110,"y":-776},{"s":"3,5 bar","x":111.9,"y":-799},{"s":"3,5 bar","x":113.8,"y":-795},{"s":"3,5 bar","x":115.3,"y":-761},{"s":"3,5 bar","x":117.2,"y":-685},{"s":"3,5 bar","x":119.1,"y":-639},{"s":"3,5 bar","x":121,"y":-593},{"s":"3,5 bar","x":122.4,"y":-587},{"s":"3,5 bar","x":123.9,"y":-601},{"s":"3,5 bar","x":126,"y":-627},{"s":"3,5 bar","x":129.6,"y":-597},{"s":"3,5 bar","x":131,"y":-548},{"s":"3,5 bar","x":132.4,"y":-502},{"s":"3,5 bar","x":134.4,"y":-487},{"s":"3,5 bar","x":136.3,"y":-441},{"s":"3,5 bar","x":138.2,"y":-395},{"s":"3,5 bar","x":139.3,"y":-388},{"s":"3,5 bar","x":140.7,"y":-350},{"s":"3,5 bar","x":141.7,"y":-304},{"s":"3,5 bar","x":143.6,"y":-279},{"s":"3,5 bar","x":145.5,"y":-275},{"s":"3,5 bar","x":148.4,"y":-264},{"s":"3,5 bar","x":150.8,"y":-256},{"s":"3,5 bar","x":153.6,"y":-226},{"s":"3,5 bar","x":156.5,"y":-188},{"s":"3,5 bar","x":159.4,"y":-152},{"s":"3,5 bar","x":162.2,"y":-129},{"s":"3,5 bar","x":165.1,"y":-118},{"s":"3,5 bar","x":168,"y":-102},{"s":"3,5 bar","x":169.8,"y":-102},{"s":"3,5 bar","x":171.8,"y":-106},{"s":"3,5 bar","x":175.5,"y":-122},{"s":"3,5 bar","x":177.3,"y":-140},{"s":"3,5 bar","x":179.2,"y":-148},{"s":"3,5 bar","x":181.1,"y":-144},{"s":"3,5 bar","x":183,"y":-129},{"s":"3,5 bar","x":184.9,"y":-127},{"s":"3,5 bar","x":186.8,"y":-134},{"s":"3,5 bar","x":188.7,"y":-136},{"s":"3,5 bar","x":191.6,"y":-140},{"s":"3,5 bar","x":194,"y":-144},{"s":"3,5 bar","x":195.9,"y":-174},{"s":"3,5 bar","x":197.8,"y":-189},{"s":"3,5 bar","x":199.2,"y":-212},{"s":"3,5 bar","x":201.1,"y":-250},{"s":"3,5 bar","x":203,"y":-272},{"s":"3,5 bar","x":205,"y":-314},{"s":"3,5 bar","x":206.9,"y":-349},{"s":"3,5 bar","x":208.3,"y":-357},{"s":"3,5 bar","x":209.7,"y":-394},{"s":"3,5 bar","x":211.2,"y":-440},{"s":"3,5 bar","x":212.1,"y":-455},{"s":"3,5 bar","x":213.5,"y":-440},{"s":"3,5 bar","x":215,"y":-409},{"s":"3,5 bar","x":216.4,"y":-372},{"s":"3,5 bar","x":218.6,"y":-440},{"s":"3,5 bar","x":220,"y":-486},{"s":"3,5 bar","x":221.5,"y":-531},{"s":"3,5 bar","x":222.1,"y":-548},{"s":"3,5 bar","x":223.1,"y":-567},{"s":"3,5 bar","x":225,"y":-570},{"s":"3,5 bar","x":226.9,"y":-593},{"s":"3,5 bar","x":228.8,"y":-658},{"s":"3,5 bar","x":231.2,"y":-647},{"s":"3,5 bar","x":234.5,"y":-700},{"s":"3,5 bar","x":237.4,"y":-768},{"s":"3,5 bar","x":239.8,"y":-776},{"s":"3,5 bar","x":241.2,"y":-806},{"s":"3,5 bar","x":243.1,"y":-852},{"s":"3,5 bar","x":245,"y":-913},{"s":"3,5 bar","x":247,"y":-959},{"s":"3,5 bar","x":248.9,"y":-959},{"s":"3,5 bar","x":250.3,"y":-951},{"s":"3,5 bar","x":252.2,"y":-951},{"s":"3,5 bar","x":253.6,"y":-928},{"s":"3,5 bar","x":255.5,"y":-892},{"s":"3,5 bar","x":258.4,"y":-936},{"s":"3,5 bar","x":259.4,"y":-941},{"s":"3,5 bar","x":261.3,"y":-936},{"s":"3,5 bar","x":263.2,"y":-951},{"s":"3,5 bar","x":264.6,"y":-928},{"s":"3,5 bar","x":266,"y":-868},{"s":"3,5 bar","x":268,"y":-837},{"s":"3,5 bar","x":269.8,"y":-814},{"s":"3,5 bar","x":271.3,"y":-768},{"s":"3,5 bar","x":272.6,"y":-700},{"s":"3,5 bar","x":274,"y":-696},{"s":"3,5 bar","x":275.5,"y":-727},{"s":"3,5 bar","x":276.9,"y":-706},{"s":"3,5 bar","x":277.5,"y":-900},{"s":"3,5 bar","x":277.9,"y":-1096},{"s":"3,5 bar","x":278.8,"y":-1092},{"s":"3,5 bar","x":279.8,"y":-1157},{"s":"3,5 bar","x":282,"y":-1202},{"s":"3,5 bar","x":283.6,"y":-1134},{"s":"3,5 bar","x":285,"y":-989},{"s":"3,5 bar","x":286.2,"y":-845},{"s":"3,5 bar","x":287.4,"y":-700},{"s":"3,5 bar","x":288.8,"y":-601},{"s":"3,5 bar","x":290.3,"y":-533},{"s":"3,5 bar","x":291.7,"y":-464},{"s":"3,5 bar","x":293,"y":-420},{"s":"3,5 bar","x":295,"y":-360},{"s":"3,5 bar","x":298,"y":-300},{"s":"3,5 bar","x":300,"y":-275},{"s":"3,5 bar","x":303,"y":-250},{"s":"3,5 bar","x":306,"y":-210},{"s":"3,5 bar","x":309,"y":-175},{"s":"3,5 bar","x":311,"y":-145},{"s":"3,5 bar","x":313,"y":-118},{"s":"3,5 bar","x":315,"y":-95},{"s":"3,5 bar","x":317,"y":-70},{"s":"3,5 bar","x":319,"y":-50},{"s":"3,5 bar","x":321,"y":-44},{"s":"3,5 bar","x":323,"y":-44},{"s":"3,5 bar","x":325,"y":-48},
{"s":"Riks 3.41 bar","x":0,"y":-148},{"s":"Riks 3.41 bar","x":5,"y":-94},{"s":"Riks 3.41 bar","x":10,"y":-65},{"s":"Riks 3.41 bar","x":15,"y":-55},{"s":"Riks 3.41 bar","x":20,"y":-58},{"s":"Riks 3.41 bar","x":25,"y":-80},{"s":"Riks 3.41 bar","x":30,"y":-114},{"s":"Riks 3.41 bar","x":35,"y":-169},{"s":"Riks 3.41 bar","x":40,"y":-238},{"s":"Riks 3.41 bar","x":45,"y":-312},{"s":"Riks 3.41 bar","x":50,"y":-386},{"s":"Riks 3.41 bar","x":55,"y":-470},{"s":"Riks 3.41 bar","x":60,"y":-568},{"s":"Riks 3.41 bar","x":65,"y":-677},{"s":"Riks 3.41 bar","x":70,"y":-795},{"s":"Riks 3.41 bar","x":75,"y":-884},{"s":"Riks 3.41 bar","x":80,"y":-953},{"s":"Riks 3.41 bar","x":85,"y":-998},{"s":"Riks 3.41 bar","x":90,"y":-1027},{"s":"Riks 3.41 bar","x":95,"y":-1040},{"s":"Riks 3.41 bar","x":100,"y":-1042},{"s":"Riks 3.41 bar","x":105,"y":-1027},{"s":"Riks 3.41 bar","x":110,"y":-988},{"s":"Riks 3.41 bar","x":115,"y":-919},{"s":"Riks 3.41 bar","x":120,"y":-845},{"s":"Riks 3.41 bar","x":125,"y":-771},{"s":"Riks 3.41 bar","x":130,"y":-682},{"s":"Riks 3.41 bar","x":135,"y":-588},{"s":"Riks 3.41 bar","x":140,"y":-489},{"s":"Riks 3.41 bar","x":145,"y":-391},{"s":"Riks 3.41 bar","x":150,"y":-302},{"s":"Riks 3.41 bar","x":155,"y":-223},{"s":"Riks 3.41 bar","x":160,"y":-159},{"s":"Riks 3.41 bar","x":165,"y":-109},{"s":"Riks 3.41 bar","x":170,"y":-75},{"s":"Riks 3.41 bar","x":175,"y":-59},{"s":"Riks 3.41 bar","x":180,"y":-55},{"s":"Riks 3.41 bar","x":185,"y":-75},{"s":"Riks 3.41 bar","x":190,"y":-100},{"s":"Riks 3.41 bar","x":195,"y":-148},{"s":"Riks 3.41 bar","x":200,"y":-208},{"s":"Riks 3.41 bar","x":205,"y":-280},{"s":"Riks 3.41 bar","x":210,"y":-351},{"s":"Riks 3.41 bar","x":215,"y":-420},{"s":"Riks 3.41 bar","x":220,"y":-499},{"s":"Riks 3.41 bar","x":225,"y":-578},{"s":"Riks 3.41 bar","x":230,"y":-662},{"s":"Riks 3.41 bar","x":235,"y":-746},{"s":"Riks 3.41 bar","x":240,"y":-825},{"s":"Riks 3.41 bar","x":245,"y":-899},{"s":"Riks 3.41 bar","x":250,"y":-958},{"s":"Riks 3.41 bar","x":255,"y":-1007},{"s":"Riks 3.41 bar","x":260,"y":-1042},{"s":"Riks 3.41 bar","x":265,"y":-1037},{"s":"Riks 3.41 bar","x":270,"y":-1003},{"s":"Riks 3.41 bar","x":275,"y":-963},{"s":"Riks 3.41 bar","x":280,"y":-904},{"s":"Riks 3.41 bar","x":285,"y":-815},{"s":"Riks 3.41 bar","x":290,"y":-726},{"s":"Riks 3.41 bar","x":295,"y":-627},{"s":"Riks 3.41 bar","x":300,"y":-534},{"s":"Riks 3.41 bar","x":305,"y":-440},{"s":"Riks 3.41 bar","x":310,"y":-351},{"s":"Riks 3.41 bar","x":315,"y":-282},{"s":"Riks 3.41 bar","x":320,"y":-233},{"s":"Riks 3.41 bar","x":325,"y":-193},
{"s":"Riks 2.98 bar","x":0,"y":-209},{"s":"Riks 2.98 bar","x":5,"y":-176},{"s":"Riks 2.98 bar","x":10,"y":-157},{"s":"Riks 2.98 bar","x":15,"y":-150},{"s":"Riks 2.98 bar","x":20,"y":-153},{"s":"Riks 2.98 bar","x":25,"y":-170},{"s":"Riks 2.98 bar","x":30,"y":-199},{"s":"Riks 2.98 bar","x":35,"y":-236},{"s":"Riks 2.98 bar","x":40,"y":-287},{"s":"Riks 2.98 bar","x":45,"y":-345},{"s":"Riks 2.98 bar","x":50,"y":-404},{"s":"Riks 2.98 bar","x":55,"y":-462},{"s":"Riks 2.98 bar","x":60,"y":-534},{"s":"Riks 2.98 bar","x":65,"y":-592},{"s":"Riks 2.98 bar","x":70,"y":-638},{"s":"Riks 2.98 bar","x":75,"y":-680},{"s":"Riks 2.98 bar","x":80,"y":-722},{"s":"Riks 2.98 bar","x":85,"y":-759},{"s":"Riks 2.98 bar","x":90,"y":-784},{"s":"Riks 2.98 bar","x":95,"y":-797},{"s":"Riks 2.98 bar","x":100,"y":-800},{"s":"Riks 2.98 bar","x":105,"y":-794},{"s":"Riks 2.98 bar","x":110,"y":-777},{"s":"Riks 2.98 bar","x":115,"y":-742},{"s":"Riks 2.98 bar","x":120,"y":-690},{"s":"Riks 2.98 bar","x":125,"y":-625},{"s":"Riks 2.98 bar","x":130,"y":-560},{"s":"Riks 2.98 bar","x":135,"y":-488},{"s":"Riks 2.98 bar","x":140,"y":-417},{"s":"Riks 2.98 bar","x":145,"y":-353},{"s":"Riks 2.98 bar","x":150,"y":-290},{"s":"Riks 2.98 bar","x":155,"y":-238},{"s":"Riks 2.98 bar","x":160,"y":-199},{"s":"Riks 2.98 bar","x":165,"y":-175},{"s":"Riks 2.98 bar","x":170,"y":-159},{"s":"Riks 2.98 bar","x":175,"y":-152},{"s":"Riks 2.98 bar","x":180,"y":-150},{"s":"Riks 2.98 bar","x":185,"y":-160},{"s":"Riks 2.98 bar","x":190,"y":-183},{"s":"Riks 2.98 bar","x":195,"y":-213},{"s":"Riks 2.98 bar","x":200,"y":-256},{"s":"Riks 2.98 bar","x":205,"y":-306},{"s":"Riks 2.98 bar","x":210,"y":-358},{"s":"Riks 2.98 bar","x":215,"y":-417},{"s":"Riks 2.98 bar","x":220,"y":-475},{"s":"Riks 2.98 bar","x":225,"y":-527},{"s":"Riks 2.98 bar","x":230,"y":-582},{"s":"Riks 2.98 bar","x":235,"y":-631},{"s":"Riks 2.98 bar","x":240,"y":-680},{"s":"Riks 2.98 bar","x":245,"y":-723},{"s":"Riks 2.98 bar","x":250,"y":-758},{"s":"Riks 2.98 bar","x":255,"y":-784},{"s":"Riks 2.98 bar","x":260,"y":-800},{"s":"Riks 2.98 bar","x":265,"y":-794},{"s":"Riks 2.98 bar","x":270,"y":-771},{"s":"Riks 2.98 bar","x":275,"y":-735},{"s":"Riks 2.98 bar","x":280,"y":-686},{"s":"Riks 2.98 bar","x":285,"y":-631},{"s":"Riks 2.98 bar","x":290,"y":-563},{"s":"Riks 2.98 bar","x":295,"y":-498},{"s":"Riks 2.98 bar","x":300,"y":-433},{"s":"Riks 2.98 bar","x":305,"y":-371},{"s":"Riks 2.98 bar","x":310,"y":-319},{"s":"Riks 2.98 bar","x":315,"y":-267},{"s":"Riks 2.98 bar","x":320,"y":-228},{"s":"Riks 2.98 bar","x":325,"y":-205},
{"s":"Riks 2.49 bar","x":0,"y":-220},{"s":"Riks 2.49 bar","x":5,"y":-198},{"s":"Riks 2.49 bar","x":10,"y":-185},{"s":"Riks 2.49 bar","x":15,"y":-181},{"s":"Riks 2.49 bar","x":20,"y":-183},{"s":"Riks 2.49 bar","x":25,"y":-194},{"s":"Riks 2.49 bar","x":30,"y":-213},{"s":"Riks 2.49 bar","x":35,"y":-238},{"s":"Riks 2.49 bar","x":40,"y":-272},{"s":"Riks 2.49 bar","x":45,"y":-310},{"s":"Riks 2.49 bar","x":50,"y":-349},{"s":"Riks 2.49 bar","x":55,"y":-388},{"s":"Riks 2.49 bar","x":60,"y":-435},{"s":"Riks 2.49 bar","x":65,"y":-474},{"s":"Riks 2.49 bar","x":70,"y":-504},{"s":"Riks 2.49 bar","x":75,"y":-532},{"s":"Riks 2.49 bar","x":80,"y":-560},{"s":"Riks 2.49 bar","x":85,"y":-585},{"s":"Riks 2.49 bar","x":90,"y":-602},{"s":"Riks 2.49 bar","x":95,"y":-610},{"s":"Riks 2.49 bar","x":100,"y":-612},{"s":"Riks 2.49 bar","x":105,"y":-608},{"s":"Riks 2.49 bar","x":110,"y":-597},{"s":"Riks 2.49 bar","x":115,"y":-573},{"s":"Riks 2.49 bar","x":120,"y":-539},{"s":"Riks 2.49 bar","x":125,"y":-496},{"s":"Riks 2.49 bar","x":130,"y":-453},{"s":"Riks 2.49 bar","x":135,"y":-405},{"s":"Riks 2.49 bar","x":140,"y":-358},{"s":"Riks 2.49 bar","x":145,"y":-315},{"s":"Riks 2.49 bar","x":150,"y":-274},{"s":"Riks 2.49 bar","x":155,"y":-239},{"s":"Riks 2.49 bar","x":160,"y":-213},{"s":"Riks 2.49 bar","x":165,"y":-197},{"s":"Riks 2.49 bar","x":170,"y":-187},{"s":"Riks 2.49 bar","x":175,"y":-182},{"s":"Riks 2.49 bar","x":180,"y":-181},{"s":"Riks 2.49 bar","x":185,"y":-187},{"s":"Riks 2.49 bar","x":190,"y":-203},{"s":"Riks 2.49 bar","x":195,"y":-223},{"s":"Riks 2.49 bar","x":200,"y":-251},{"s":"Riks 2.49 bar","x":205,"y":-284},{"s":"Riks 2.49 bar","x":210,"y":-319},{"s":"Riks 2.49 bar","x":215,"y":-358},{"s":"Riks 2.49 bar","x":220,"y":-397},{"s":"Riks 2.49 bar","x":225,"y":-431},{"s":"Riks 2.49 bar","x":230,"y":-468},{"s":"Riks 2.49 bar","x":235,"y":-500},{"s":"Riks 2.49 bar","x":240,"y":-532},{"s":"Riks 2.49 bar","x":245,"y":-561},{"s":"Riks 2.49 bar","x":250,"y":-584},{"s":"Riks 2.49 bar","x":255,"y":-601},{"s":"Riks 2.49 bar","x":260,"y":-612},{"s":"Riks 2.49 bar","x":265,"y":-608},{"s":"Riks 2.49 bar","x":270,"y":-593},{"s":"Riks 2.49 bar","x":275,"y":-569},{"s":"Riks 2.49 bar","x":280,"y":-537},{"s":"Riks 2.49 bar","x":285,"y":-500},{"s":"Riks 2.49 bar","x":290,"y":-455},{"s":"Riks 2.49 bar","x":295,"y":-412},{"s":"Riks 2.49 bar","x":300,"y":-368},{"s":"Riks 2.49 bar","x":305,"y":-328},{"s":"Riks 2.49 bar","x":310,"y":-293},{"s":"Riks 2.49 bar","x":315,"y":-259},{"s":"Riks 2.49 bar","x":320,"y":-233},{"s":"Riks 2.49 bar","x":325,"y":-218},
{"s":"Riks 2.00 Bar","x":0,"y":-199},{"s":"Riks 2.00 Bar","x":5,"y":-186},{"s":"Riks 2.00 Bar","x":10,"y":-178},{"s":"Riks 2.00 Bar","x":15,"y":-175},{"s":"Riks 2.00 Bar","x":20,"y":-176},{"s":"Riks 2.00 Bar","x":25,"y":-183},{"s":"Riks 2.00 Bar","x":30,"y":-196},{"s":"Riks 2.00 Bar","x":35,"y":-213},{"s":"Riks 2.00 Bar","x":40,"y":-234},{"s":"Riks 2.00 Bar","x":45,"y":-260},{"s":"Riks 2.00 Bar","x":50,"y":-285},{"s":"Riks 2.00 Bar","x":55,"y":-311},{"s":"Riks 2.00 Bar","x":60,"y":-342},{"s":"Riks 2.00 Bar","x":65,"y":-367},{"s":"Riks 2.00 Bar","x":70,"y":-387},{"s":"Riks 2.00 Bar","x":75,"y":-406},{"s":"Riks 2.00 Bar","x":80,"y":-424},{"s":"Riks 2.00 Bar","x":85,"y":-440},{"s":"Riks 2.00 Bar","x":90,"y":-451},{"s":"Riks 2.00 Bar","x":95,"y":-457},{"s":"Riks 2.00 Bar","x":100,"y":-458},{"s":"Riks 2.00 Bar","x":105,"y":-455},{"s":"Riks 2.00 Bar","x":110,"y":-448},{"s":"Riks 2.00 Bar","x":115,"y":-433},{"s":"Riks 2.00 Bar","x":120,"y":-410},{"s":"Riks 2.00 Bar","x":125,"y":-382},{"s":"Riks 2.00 Bar","x":130,"y":-353},{"s":"Riks 2.00 Bar","x":135,"y":-322},{"s":"Riks 2.00 Bar","x":140,"y":-291},{"s":"Riks 2.00 Bar","x":145,"y":-263},{"s":"Riks 2.00 Bar","x":150,"y":-236},{"s":"Riks 2.00 Bar","x":155,"y":-213},{"s":"Riks 2.00 Bar","x":160,"y":-196},{"s":"Riks 2.00 Bar","x":165,"y":-186},{"s":"Riks 2.00 Bar","x":170,"y":-179},{"s":"Riks 2.00 Bar","x":175,"y":-176},{"s":"Riks 2.00 Bar","x":180,"y":-175},{"s":"Riks 2.00 Bar","x":185,"y":-179},{"s":"Riks 2.00 Bar","x":190,"y":-189},{"s":"Riks 2.00 Bar","x":195,"y":-202},{"s":"Riks 2.00 Bar","x":200,"y":-221},{"s":"Riks 2.00 Bar","x":205,"y":-243},{"s":"Riks 2.00 Bar","x":210,"y":-266},{"s":"Riks 2.00 Bar","x":215,"y":-291},{"s":"Riks 2.00 Bar","x":220,"y":-317},{"s":"Riks 2.00 Bar","x":225,"y":-339},{"s":"Riks 2.00 Bar","x":230,"y":-363},{"s":"Riks 2.00 Bar","x":235,"y":-384},{"s":"Riks 2.00 Bar","x":240,"y":-406},{"s":"Riks 2.00 Bar","x":245,"y":-425},{"s":"Riks 2.00 Bar","x":250,"y":-440},{"s":"Riks 2.00 Bar","x":255,"y":-451},{"s":"Riks 2.00 Bar","x":260,"y":-458},{"s":"Riks 2.00 Bar","x":265,"y":-455},{"s":"Riks 2.00 Bar","x":270,"y":-445},{"s":"Riks 2.00 Bar","x":275,"y":-430},{"s":"Riks 2.00 Bar","x":280,"y":-408},{"s":"Riks 2.00 Bar","x":285,"y":-384},{"s":"Riks 2.00 Bar","x":290,"y":-355},{"s":"Riks 2.00 Bar","x":295,"y":-326},{"s":"Riks 2.00 Bar","x":300,"y":-298},{"s":"Riks 2.00 Bar","x":305,"y":-271},{"s":"Riks 2.00 Bar","x":310,"y":-249},{"s":"Riks 2.00 Bar","x":315,"y":-226},{"s":"Riks 2.00 Bar","x":320,"y":-209},{"s":"Riks 2.00 Bar","x":325,"y":-199},
{"s":"Riks 1.52 Bar","x":0,"y":-167},{"s":"Riks 1.52 Bar","x":10,"y":-152},{"s":"Riks 1.52 Bar","x":20,"y":-151},{"s":"Riks 1.52 Bar","x":30,"y":-164},{"s":"Riks 1.52 Bar","x":40,"y":-189},{"s":"Riks 1.52 Bar","x":50,"y":-222},{"s":"Riks 1.52 Bar","x":60,"y":-259},{"s":"Riks 1.52 Bar","x":70,"y":-289},{"s":"Riks 1.52 Bar","x":80,"y":-313},{"s":"Riks 1.52 Bar","x":90,"y":-331},{"s":"Riks 1.52 Bar","x":100,"y":-335},{"s":"Riks 1.52 Bar","x":110,"y":-329},{"s":"Riks 1.52 Bar","x":120,"y":-304},{"s":"Riks 1.52 Bar","x":130,"y":-267},{"s":"Riks 1.52 Bar","x":140,"y":-226},{"s":"Riks 1.52 Bar","x":150,"y":-190},{"s":"Riks 1.52 Bar","x":160,"y":-164},{"s":"Riks 1.52 Bar","x":170,"y":-153},{"s":"Riks 1.52 Bar","x":180,"y":-150},{"s":"Riks 1.52 Bar","x":190,"y":-159},{"s":"Riks 1.52 Bar","x":200,"y":-180},{"s":"Riks 1.52 Bar","x":210,"y":-209},{"s":"Riks 1.52 Bar","x":220,"y":-243},{"s":"Riks 1.52 Bar","x":230,"y":-273},{"s":"Riks 1.52 Bar","x":240,"y":-301},{"s":"Riks 1.52 Bar","x":250,"y":-323},{"s":"Riks 1.52 Bar","x":260,"y":-335},{"s":"Riks 1.52 Bar","x":270,"y":-327},{"s":"Riks 1.52 Bar","x":280,"y":-303},{"s":"Riks 1.52 Bar","x":290,"y":-267},{"s":"Riks 1.52 Bar","x":300,"y":-230},{"s":"Riks 1.52 Bar","x":310,"y":-198},{"s":"Riks 1.52 Bar","x":320,"y":-172},{"s":"Riks 1.52 Bar","x":325,"y":-166},
{"s":"Riks 1.11 bar","x":0,"y":-127},{"s":"Riks 1.11 bar","x":10,"y":-117},{"s":"Riks 1.11 bar","x":20,"y":-117},{"s":"Riks 1.11 bar","x":30,"y":-125},{"s":"Riks 1.11 bar","x":40,"y":-141},{"s":"Riks 1.11 bar","x":50,"y":-163},{"s":"Riks 1.11 bar","x":60,"y":-187},{"s":"Riks 1.11 bar","x":70,"y":-206},{"s":"Riks 1.11 bar","x":80,"y":-222},{"s":"Riks 1.11 bar","x":90,"y":-233},{"s":"Riks 1.11 bar","x":100,"y":-236},{"s":"Riks 1.11 bar","x":110,"y":-232},{"s":"Riks 1.11 bar","x":120,"y":-216},{"s":"Riks 1.11 bar","x":130,"y":-192},{"s":"Riks 1.11 bar","x":140,"y":-165},{"s":"Riks 1.11 bar","x":150,"y":-142},{"s":"Riks 1.11 bar","x":160,"y":-125},{"s":"Riks 1.11 bar","x":170,"y":-118},{"s":"Riks 1.11 bar","x":180,"y":-116},{"s":"Riks 1.11 bar","x":190,"y":-122},{"s":"Riks 1.11 bar","x":200,"y":-136},{"s":"Riks 1.11 bar","x":210,"y":-154},{"s":"Riks 1.11 bar","x":220,"y":-176},{"s":"Riks 1.11 bar","x":230,"y":-196},{"s":"Riks 1.11 bar","x":240,"y":-214},{"s":"Riks 1.11 bar","x":250,"y":-228},{"s":"Riks 1.11 bar","x":260,"y":-236},{"s":"Riks 1.11 bar","x":270,"y":-231},{"s":"Riks 1.11 bar","x":280,"y":-215},{"s":"Riks 1.11 bar","x":290,"y":-192},{"s":"Riks 1.11 bar","x":300,"y":-168},{"s":"Riks 1.11 bar","x":310,"y":-147},{"s":"Riks 1.11 bar","x":320,"y":-130},{"s":"Riks 1.11 bar","x":325,"y":-126},
{"s":"Riks 0.52 bar","x":0,"y":-62},{"s":"Riks 0.52 bar","x":10,"y":-58},{"s":"Riks 0.52 bar","x":20,"y":-57},{"s":"Riks 0.52 bar","x":30,"y":-60},{"s":"Riks 0.52 bar","x":40,"y":-66},{"s":"Riks 0.52 bar","x":50,"y":-75},{"s":"Riks 0.52 bar","x":60,"y":-84},{"s":"Riks 0.52 bar","x":70,"y":-92},{"s":"Riks 0.52 bar","x":80,"y":-98},{"s":"Riks 0.52 bar","x":90,"y":-101},{"s":"Riks 0.52 bar","x":100,"y":-101},{"s":"Riks 0.52 bar","x":110,"y":-99},{"s":"Riks 0.52 bar","x":120,"y":-96},{"s":"Riks 0.52 bar","x":130,"y":-89},{"s":"Riks 0.52 bar","x":140,"y":-80},{"s":"Riks 0.52 bar","x":150,"y":-72},{"s":"Riks 0.52 bar","x":160,"y":-64},{"s":"Riks 0.52 bar","x":170,"y":-59},{"s":"Riks 0.52 bar","x":180,"y":-57},{"s":"Riks 0.52 bar","x":190,"y":-61},{"s":"Riks 0.52 bar","x":200,"y":-68},{"s":"Riks 0.52 bar","x":210,"y":-78},{"s":"Riks 0.52 bar","x":220,"y":-87},{"s":"Riks 0.52 bar","x":230,"y":-94},{"s":"Riks 0.52 bar","x":240,"y":-99},{"s":"Riks 0.52 bar","x":250,"y":-102},{"s":"Riks 0.52 bar","x":260,"y":-103},{"s":"Riks 0.52 bar","x":270,"y":-101},{"s":"Riks 0.52 bar","x":280,"y":-97},{"s":"Riks 0.52 bar","x":290,"y":-91},{"s":"Riks 0.52 bar","x":300,"y":-84},{"s":"Riks 0.52 bar","x":310,"y":-76},{"s":"Riks 0.52 bar","x":320,"y":-67},{"s":"Riks 0.52 bar","x":325,"y":-63}
]},
"encoding":{
"x":{"field":"x","type":"quantitative","scale":{"domain":[0,325],"nice":false,"zero":false},
"axis":{"values":[0,25,50,75,100,125,150,175,200,225,250,275,300,325],"orient":"bottom","offset":-569.2,"domain":false,"ticks":false,"labelPadding":13,"labelFontSize":14,"labelColor":"#595959","labelFlush":false,"grid":true,"gridColor":"#D9D9D9","gridWidth":1.5,"title":"Length (mm)","titleY":596,"titleBaseline":"middle","titleFontSize":14,"titleFontWeight":"normal","titleColor":"#595959"}},
"y":{"field":"y","type":"quantitative","scale":{"domain":[-1300,100],"nice":false,"zero":false},
"axis":{"values":[-1300,-1200,-1100,-1000,-900,-800,-700,-600,-500,-400,-300,-200,-100,0,100],"labelExpr":"'' + datum.value","domain":false,"ticks":false,"labelPadding":15,"labelFontSize":14,"labelColor":"#595959","labelFlush":false,"grid":true,"gridColor":"#D9D9D9","gridWidth":1.5,"title":"Microstrain (με)","titleX":-63,"titleBaseline":"middle","titleFontSize":14,"titleFontWeight":"normal","titleColor":"#595959"}},
"color":{"field":"s","type":"nominal","title":null,
"scale":{"domain":["0,0 bar","0,5 bar","1,0 bar","1,5 bar","2,0 bar","2,5 bar","3,0 bar","3,5 bar","Riks 3.41 bar","Riks 2.98 bar","Riks 2.49 bar","Riks 2.00 Bar","Riks 1.52 Bar","Riks 1.11 bar","Riks 0.52 bar"],
"range":["#5B9BD5","#FF0000","#A5A5A5","#FFC000","#000000","#70AD47","#255E91","#9E480E","#9E480E","#255E91","#70AD47","#000000","#FFC000","#A5A5A5","#FF0000"]}},
"strokeDash":{"field":"s","type":"nominal","title":null,
"scale":{"domain":["0,0 bar","0,5 bar","1,0 bar","1,5 bar","2,0 bar","2,5 bar","3,0 bar","3,5 bar","Riks 3.41 bar","Riks 2.98 bar","Riks 2.49 bar","Riks 2.00 Bar","Riks 1.52 Bar","Riks 1.11 bar","Riks 0.52 bar"],
"range":[[1,0],[1,0],[1,0],[1,0],[1,0],[1,0],[1,0],[1,0],[3,2],[3,2],[3,2],[3,2],[3,2],[3,2],[3,2]]}}
},
"layer":[
{"transform":[{"filter":"indexof(datum.s,'Riks')<0"}],"mark":{"type":"line","strokeWidth":1.4}},
{"transform":[{"filter":"indexof(datum.s,'Riks')==0"}],"mark":{"type":"line","strokeWidth":1,"interpolate":"monotone"}}
]
}
